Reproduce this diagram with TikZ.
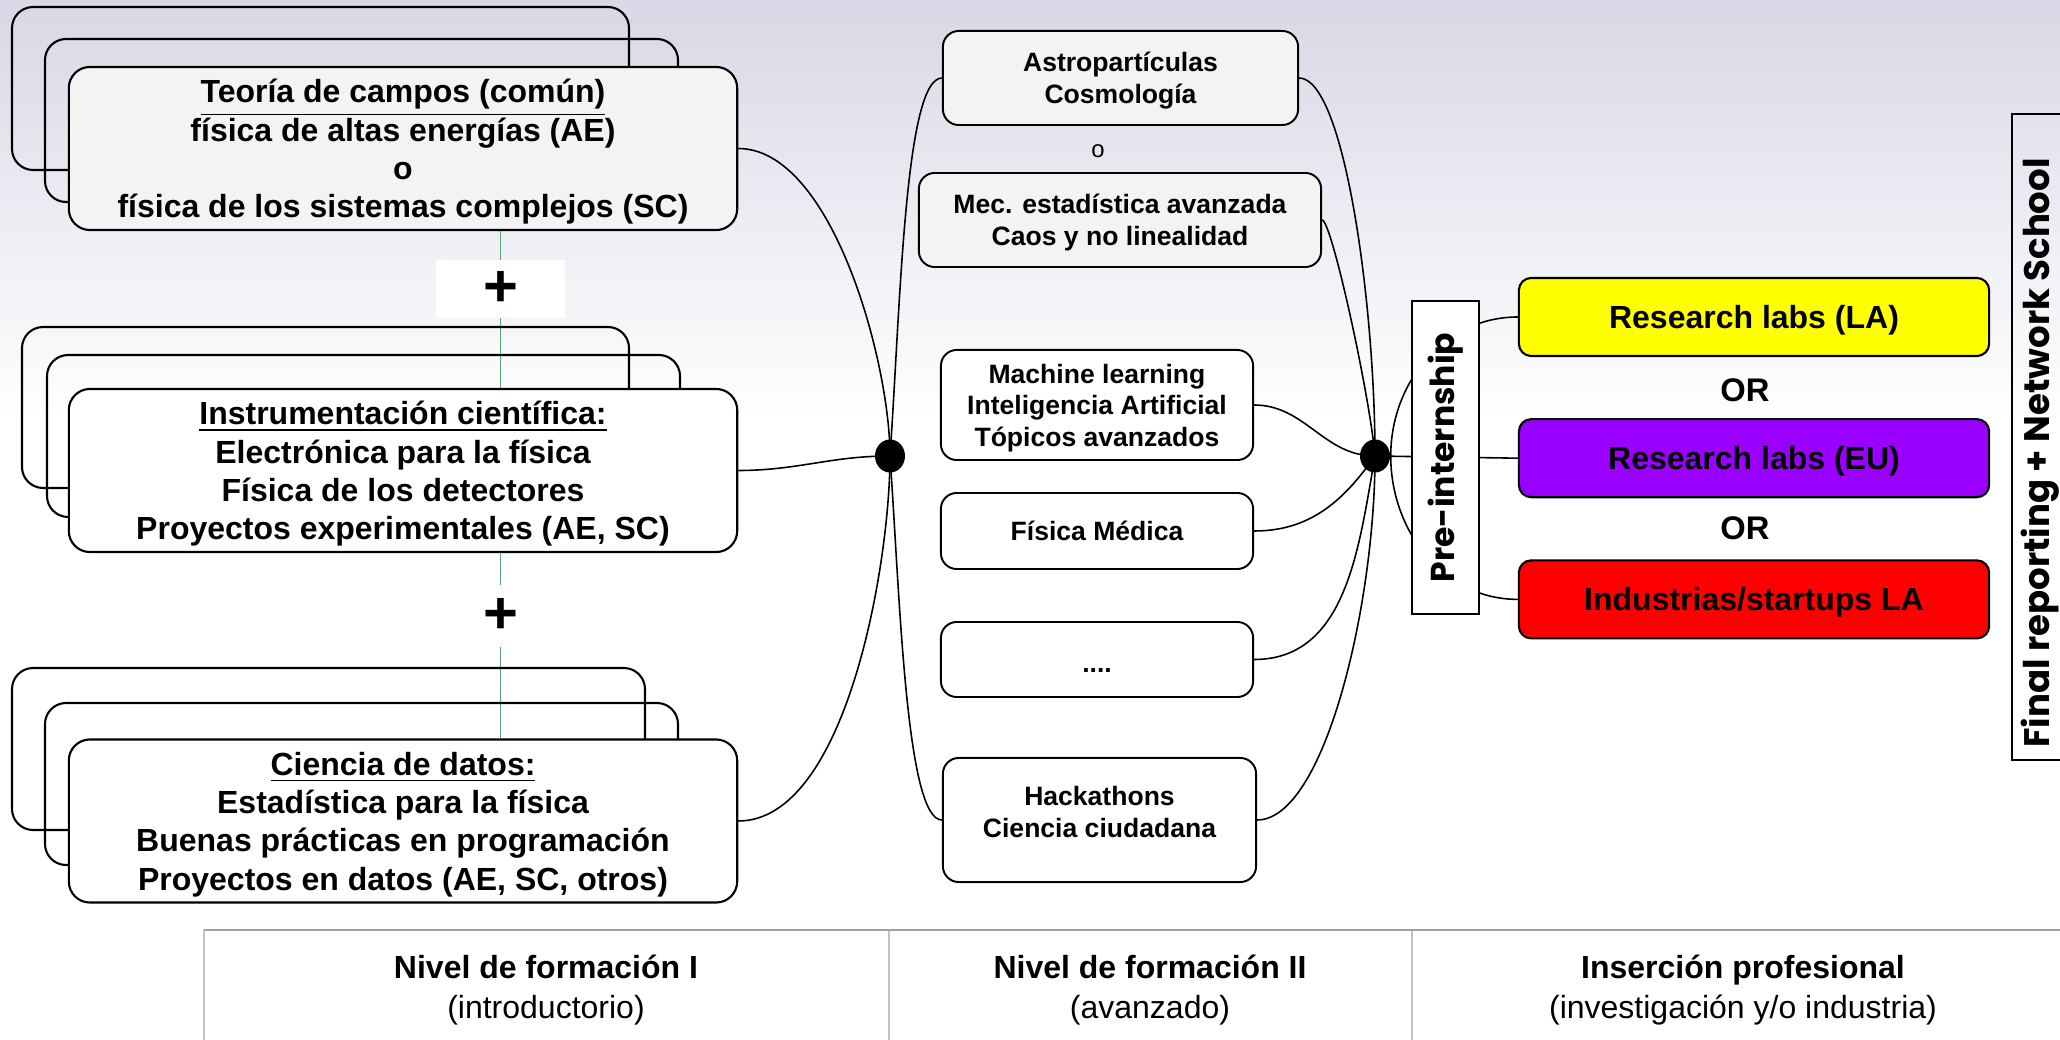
\documentclass[tikz,border=0pt]{standalone}
\usepackage{xcolor}
\usepackage{fontspec}
\setmainfont{Liberation Sans}
\newfontfamily\popfont{Poppins}
\usepackage{tikz}
\usetikzlibrary{shapes.geometric, positioning, calc}
\definecolor{mybgtop}{RGB}{216,216,230}
\definecolor{myfill}{RGB}{243,243,243}
\definecolor{mygreen}{RGB}{88,168,112}
\definecolor{myyellow}{RGB}{255,255,0}
\definecolor{mypurple}{RGB}{153,0,255}
\definecolor{myred}{RGB}{255,0,0}
\definecolor{mygrid}{RGB}{160,160,160}
\definecolor{mygridlight}{RGB}{195,195,195}
\pgfdeclarelayer{bg}
\pgfdeclarelayer{wires}
\pgfsetlayers{bg,wires,main}
\tikzset{
  course/.style={rectangle, draw=black, fill=white, minimum width=6.68cm,
    minimum height=1.63cm, align=center, rounded corners=6pt, line width=0.6pt,
    inner sep=0pt, text depth=0pt, font=\fontsize{9.1}{10.9}\selectfont\bfseries},
  backcard/.style={draw=black, rounded corners=6pt, line width=0.6pt},
  topic/.style={rectangle, draw=black, fill=white, minimum width=3.12cm,
    align=center, rounded corners=4.5pt, line width=0.55pt, inner sep=0pt,
    text depth=0pt, font=\fontsize{7.55}{8.95}\selectfont\bfseries},
  lab/.style={rectangle, draw=black, minimum width=4.70cm, minimum height=0.78cm,
    rounded corners=3.5pt, line width=0.6pt, inner sep=0pt, text depth=0pt,
    font=\fontsize{9.1}{10.9}\selectfont\bfseries},
  orword/.style={font=\fontsize{9.3}{11}\selectfont\bfseries},
  junction/.style={ellipse, fill=black, minimum width=0.30cm,
    minimum height=0.33cm, inner sep=0pt},
  plusbox/.style={rectangle, fill=white, minimum width=1.29cm, inner sep=0pt,
    font=\fontsize{17}{17}\selectfont\bfseries},
  sidebox/.style={rectangle, draw=black, fill=white, line width=0.5pt, inner sep=0pt},
  sidetext/.style={font=\popfont\fontsize{9.4}{11}\selectfont\bfseries},
  header/.style={align=center, font=\fontsize{9.1}{11.4}\selectfont},
  wire/.style={line width=0.45pt, color=black},
  greenline/.style={line width=0.4pt, color=mygreen}
}

\begin{document}
\begin{tikzpicture}[x=0.01cm, y=0.01cm, node distance=0.61cm and 1cm]
  \useasboundingbox (0,0) rectangle (2060,-1040);
  \begin{pgfonlayer}{bg}
    \shade[top color=mybgtop, bottom color=white] (0,0) rectangle (2060,-420);
  \end{pgfonlayer}

  % Nivel I: cards behind
  \draw[backcard] (12,-7) rectangle (629,-170);
  \draw[backcard] (45,-39) rectangle (678,-202);
  \draw[backcard] (22,-327) rectangle (629,-488);
  \draw[backcard] (47,-355) rectangle (680,-517);
  \draw[backcard] (12,-668) rectangle (645,-830);
  \draw[backcard] (45,-703) rectangle (678,-865);

  % Nivel I: courses
  \node[course, fill=myfill] (campos) at (403,-148.5) {\underline{Teoría de campos (común)}\\física de altas energías (AE)\\o\\física de los sistemas complejos (SC)};
  \node[course] (instrum) at (403,-470.5) {\underline{Instrumentación científica:}\\Electrónica para la física\\Física de los detectores\\Proyectos experimentales (AE, SC)};
  \node[course] (datos) at (403,-821) {\underline{Ciencia de datos:}\\Estadística para la física\\Buenas prácticas en programación\\Proyectos en datos (AE, SC, otros)};
  \node[plusbox, minimum height=0.58cm] (plusA) at (500.5,-289) {+};
  \node[plusbox, minimum height=0.61cm] (plusB) at (500.5,-616) {+};

  % Nivel II: topics
  \node[topic, fill=myfill, minimum width=3.55cm, minimum height=0.94cm] (astro) at (1120.5,-78) {Astropartículas\\Cosmología};
  \node[font=\fontsize{6.8}{8}\selectfont] (orA) at (1098,-151) {o};
  \node[topic, fill=myfill, minimum width=4.02cm, minimum height=0.94cm] (mec) at (1120,-220) {Mec. estadística avanzada\\Caos y no linealidad};
  \node[topic, minimum height=1.10cm] (ml) at (1097,-405) {Machine learning\\Inteligencia Artificial\\Tópicos avanzados};
  \node[topic, minimum height=0.76cm] (fmed) at (1097,-531) {Física Médica};
  \node[topic, minimum height=0.75cm, text height=0.72em] (etc) at (1097,-659.5) {....};
  \node[topic, minimum width=3.13cm, minimum height=1.24cm, text depth=0.45em] (hack) at (1099.5,-820) {Hackathons\\Ciencia ciudadana};

  \node[junction] (hubI) at (890,-456) {};
  \node[junction] (hubII) at (1375,-456) {};

  % Inserción profesional
  \node[sidebox, sidetext, rotate=90, minimum width=3.13cm, minimum height=0.67cm] (pre) at (1445.5,-457.5) {Pre-internship};
  \node[lab, fill=myyellow] (labLA) at (1754,-317) {Research labs (LA)};
  \node[lab, fill=mypurple, below=of labLA] (labEU) {Research labs (EU)};
  \node[lab, fill=myred, below=of labEU] (ind) {Industrias/startups LA};
  \node[orword] (orB) at (1745,-390) {OR};
  \node[orword] (orC) at (1745,-528) {OR};

  \node[sidebox, fill=none, minimum width=0.63cm, minimum height=6.46cm] (finalbox) at (2043.5,-437) {};
  \node[sidetext, font=\popfont\fontsize{10.1}{12}\selectfont\bfseries, rotate=90] (final) at (2040,-453) {Final reporting + Network School};

  % Table
  \draw[mygridlight, line width=0.45pt] (204,-930) -- (204,-1040);
  \draw[mygridlight, line width=0.3pt] (889,-930) -- (889,-1040);
  \draw[mygridlight, line width=0.3pt] (1412,-930) -- (1412,-1040);
  \draw[mygrid, line width=0.75pt] (204,-930) -- (2060,-930);
  \node[header] (lvlI) at (546,-990) {\textbf{Nivel de formación I}\\(introductorio)};
  \node[header] (lvlII) at (1150,-990) {\textbf{Nivel de formación II}\\(avanzado)};
  \node[header] (insercion) at (1743,-990) {\textbf{Inserción profesional}\\(investigación y/o industria)};

  % Paths
  \begin{pgfonlayer}{wires}
    \draw[greenline] (campos.south -| plusA) -- (datos.north -| plusA);
    \draw[wire] (campos.east) to[out=0, in=90, looseness=0.7] (hubI.center);
    \draw[wire] (instrum.east) to[out=0, in=180] (hubI.center);
    \draw[wire] (datos.east) to[out=0, in=-90, looseness=0.7] (hubI.center);
    \draw[wire] (hubI.center) to[out=86, in=180, in looseness=0.25] (astro.west);
    \draw[wire] (hubI.center) to[out=-86, in=180, in looseness=0.25] (hack.west);
    \draw[wire] (astro.east) to[out=0, in=90, out looseness=0.3] (hubII.center);
    \draw[wire] (mec.east) to[out=0, in=95, out looseness=0.1, in looseness=0.65] (hubII.center);
    \draw[wire] (ml.east) to[out=0, in=180] (hubII.center);
    \draw[wire] (fmed.east) to[out=0, in=-125] (hubII.center);
    \draw[wire] (etc.east) to[out=0, in=-100] (hubII.center);
    \draw[wire] (hack.east) to[out=0, in=-90, out looseness=0.45] (hubII.center);
    \draw[wire] (hubII.east) to[out=90, in=180] (labLA.west);
    \draw[wire] (hubII.center) -- (labEU.west);
    \draw[wire] (hubII.east) to[out=-90, in=180] (ind.west);
  \end{pgfonlayer}
\end{tikzpicture}
\end{document}
